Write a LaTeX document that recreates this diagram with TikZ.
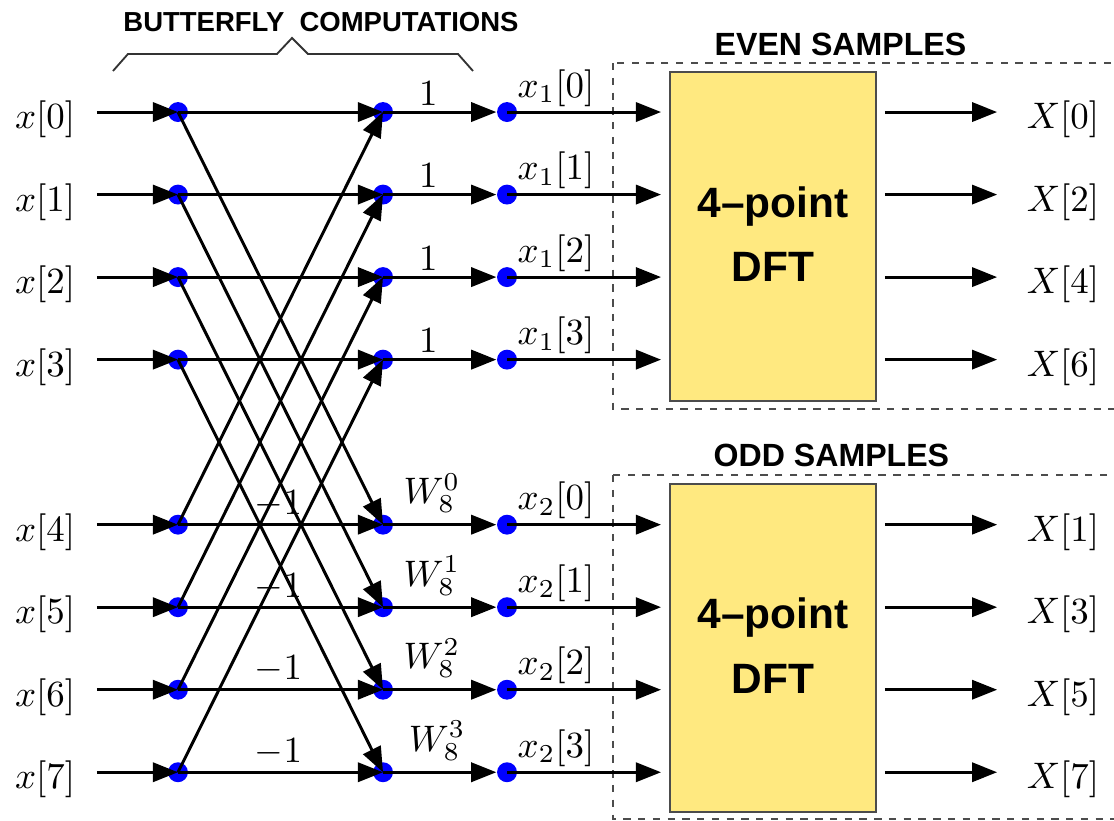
\documentclass[tikz,border=0pt]{standalone}
\usepackage{fontspec}
\usepackage{amsmath}
\usetikzlibrary{arrows.meta,positioning,calc}
\newfontfamily\lab{Liberation Sans}
\tikzset{>={Triangle[length=6.8pt,width=5.2pt]}}
\definecolor{dftyellow}{RGB}{255,233,128}
\newcommand{\dfttext}{\raisebox{0.08cm}{\begin{tabular}{@{}c@{}}4\textendash point\\DFT\end{tabular}}}

\begin{document}
\begin{tikzpicture}[
    sig/.style = {->, line width = 0.8pt},
    dot/.style = {circle, fill = blue, inner sep = 0pt, minimum size = 5.4pt},
    dft/.style = {draw = black!70, line width = 0.5pt, fill = dftyellow, minimum width = 1.96cm, minimum height = 3.13cm, align = center, font = \lab\bfseries\fontsize{11.5}{17.5}\selectfont},
    grp/.style = {draw = black!70, line width = 0.4pt, dash pattern = on 2pt off 2pt},
    ttl/.style = {font = \lab\bfseries\fontsize{8.7}{10}\selectfont},
    wt/.style = {above, inner sep = 1.5pt},
    tag/.style = {anchor = south west, inner sep = 0pt},
]
\useasboundingbox (0,0) rectangle (10.61,-7.81);

% groups of samples
\draw[grp] (5.838,-0.6) rectangle (10.75,-3.895);
\draw[grp] (5.838,-4.524) rectangle (10.75,-7.8);
\node[ttl] (evenlab) at (8.005,-0.419) {EVEN SAMPLES};
\node[ttl] (oddlab) at (7.919,-4.333) {ODD SAMPLES};

\node[dft] (even) at (7.362,-2.2525) {\dfttext};
\node[dft] (odd) at (7.362,-6.1715) {\dfttext};

% brace over the butterflies
\node[font = \lab\bfseries\fontsize{7.45}{9}\selectfont] (bfly) at (3.057,-0.205) {BUTTERFLY\ \ COMPUTATIONS};
\draw[line width = 0.5pt, black!80] (1.076,-0.676) -- (1.219,-0.514) -- (2.638,-0.514) -- (2.781,-0.362) -- (2.933,-0.514) -- (4.362,-0.514) -- (4.505,-0.676);

% rows, one empty row between the halves
\foreach \k/\r/\n in {0/0/0,1/1/2,2/2/4,3/3/6,4/5/1,5/6/3,6/7/5,7/8/7} {
  \node[dot] (a\k) at (1.695, {-1.067-0.786*\r}) {};
  \node[dot] (b\k) at (3.648, {-1.067-0.786*\r}) {};
  \node[dot] (c\k) at (4.829, {-1.067-0.786*\r}) {};
  \node (i\k) at (0.429, {-1.137-0.786*\r}) {$x[\k]$};
  \node (o\k) at (10.124, {-1.137-0.786*\r}) {$X[\n]$};
  \draw[sig, shorten <= 2.4pt] (i\k.east |- a\k) -- (a\k.center);
}

\foreach \k in {0,...,3} {
  \pgfmathtruncatemacro\m{\k+4}
  \draw[sig] (a\k.center) -- (b\k.center);
  \draw[sig] (b\k.center) -- node[wt, pos = 0.4] {$1$} (c\k);
  \draw[sig] (a\m.center) -- node[wt, pos = 0.49] {$-1$} (b\m.center);
  \draw[sig] (b\m.center) -- (c\m);
}

\foreach \k in {0,...,3} {
  \pgfmathtruncatemacro\m{\k+4}
  \draw[sig] (a\k.center) -- (b\m.center);
  \draw[sig] (a\m.center) -- (b\k.center);
}

% twiddle factors and outputs of the butterflies
\foreach \k/\dx in {0/0.19,1/0.19,2/0.19,3/0.24} {
  \pgfmathtruncatemacro\m{\k+4}
  \node[tag] (w\k) at ([xshift = \dx cm, yshift = 0.105cm]b\m) {$W_8^{\k}$};
  \node[tag] (p\k) at ([xshift = 0.095cm, yshift = 0.048cm]c\k) {$x_1[\k]$};
  \node[tag] (q\k) at ([xshift = 0.095cm, yshift = 0.048cm]c\m) {$x_2[\k]$};
}

% into and out of the DFTs
\foreach \k in {0,...,3} {
  \pgfmathtruncatemacro\m{\k+4}
  \draw[sig, shorten >= 2.2pt] (c\k.center) -- (c\k -| even.west);
  \draw[sig, shorten <= 2.2pt, shorten >= 4.5pt] (c\k -| even.east) -- (c\k -| o\k.west);
  \draw[sig, shorten >= 2.2pt] (c\m.center) -- (c\m -| odd.west);
  \draw[sig, shorten <= 2.2pt, shorten >= 4.5pt] (c\m -| odd.east) -- (c\m -| o\m.west);
}

\end{tikzpicture}
\end{document}
